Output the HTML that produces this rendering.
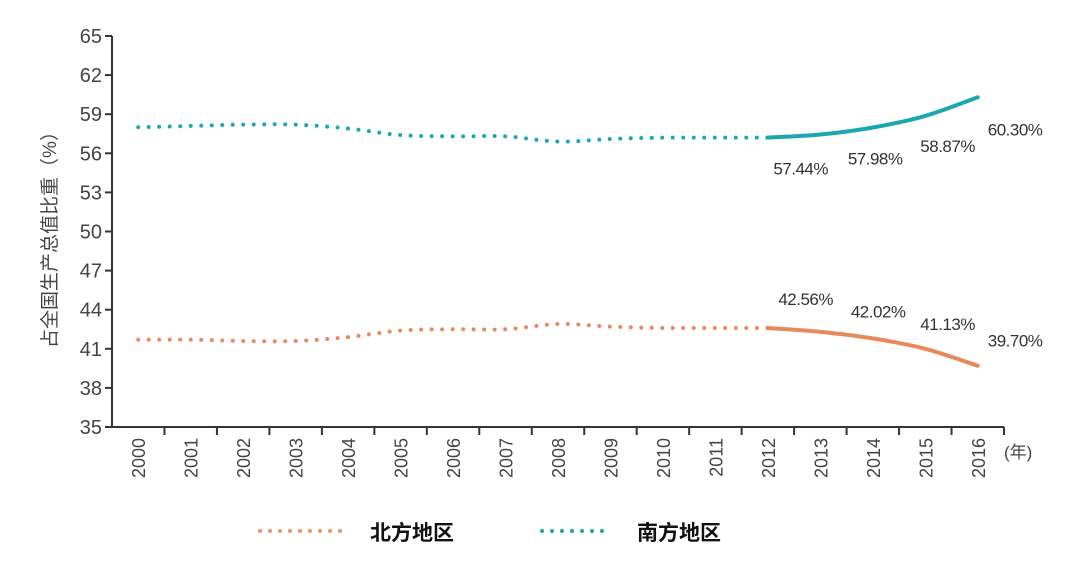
<!DOCTYPE html>
<html><head><meta charset="utf-8"><style>
body{margin:0;background:#fff;width:1080px;height:562px;overflow:hidden}
svg text{font-family:"Liberation Sans","Noto Sans CJK SC",sans-serif}
</style></head><body>
<svg id="chart" width="1080" height="562" viewBox="0 0 1080 562" xmlns="http://www.w3.org/2000/svg">
<g id="axes"></g><g id="series"></g><g id="labels"></g>
<text transform="translate(56,235) rotate(-90)" text-anchor="middle" font-size="19" fill="#444">占全国生产总值比重（%）</text>
<text x="1004" y="458" font-size="17" fill="#444">(年)</text>
<g>
<line x1="260" y1="531" x2="345" y2="531" stroke="#e8956a" stroke-width="4" stroke-linecap="round" stroke-dasharray="0 10"/>
<text x="370" y="540" font-size="21" font-weight="bold" fill="#111">北方地区</text>
<line x1="542" y1="531" x2="610" y2="531" stroke="#1aa8a8" stroke-width="4" stroke-linecap="round" stroke-dasharray="0 10"/>
<text x="637" y="540" font-size="21" font-weight="bold" fill="#111">南方地区</text>
</g>
</svg>
<script>
const years=["2000","2001","2002","2003","2004","2005","2006","2007","2008","2009","2010","2011","2012","2013","2014","2015","2016"];
const south=[58.0,58.1,58.2,58.2,57.9,57.4,57.3,57.3,56.9,57.1,57.2,57.2,57.2,57.44,57.98,58.87,60.30];
const north=[41.7,41.7,41.6,41.6,41.9,42.4,42.5,42.5,42.9,42.7,42.6,42.6,42.6,42.3,41.8,41.0,39.70];
const southLabels=["57.44%","57.98%","58.87%","60.30%"];
const northLabels=["42.56%","42.02%","41.13%","39.70%"];
const yTicks=[35,38,41,44,47,50,53,56,59,62,65];
const solidStart=12;
const NS="http://www.w3.org/2000/svg";
const X0=112,X1=1004,Y0=427,Y1=36,YMIN=35,YMAX=65;
const bw=(X1-X0)/years.length;
const xs=i=>X0+bw*(i+0.5);
const ys=v=>Y0-(v-YMIN)/(YMAX-YMIN)*(Y0-Y1);
function mk(tag,attrs,parent){const e=document.createElementNS(NS,tag);for(const k in attrs)e.setAttribute(k,attrs[k]);parent.appendChild(e);return e;}
const axes=document.getElementById('axes'),ser=document.getElementById('series'),lab=document.getElementById('labels');
let e=mk('line',{x1:X0,y1:Y1,x2:X0,y2:Y0,stroke:'#333','stroke-width':2},axes);


e=mk('line',{x1:X0,y1:Y0,x2:X1,y2:Y0,stroke:'#333','stroke-width':2},axes);


yTicks.forEach(t=>{
 const y=ys(t);
 const l=mk('line',{x1:X0-7,y1:y,x2:X0,y2:y,stroke:'#333','stroke-width':2},axes);
 
 
 const tx=mk('text',{x:X0-10,y:y+7,'text-anchor':'end','font-size':20,fill:'#444'},axes);
 tx.textContent=t;
 
 
});
years.forEach((yr,i)=>{
 const bx=X0+bw*(i+1);
 const l=mk('line',{x1:bx,y1:Y0,x2:bx,y2:Y0+8,stroke:'#333','stroke-width':2},axes);
 
 
 const tx=mk('text',{transform:`translate(${xs(i)+7},438) rotate(-90)`,'text-anchor':'end','font-size':18,fill:'#444'},axes);
 tx.textContent=yr;
 
 
});
function smooth(pts){let d=`M${pts[0][0]},${pts[0][1]}`;for(let i=0;i<pts.length-1;i++){const p0=pts[i-1]||pts[i],p1=pts[i],p2=pts[i+1],p3=pts[i+2]||p2;d+=` C${p1[0]+(p2[0]-p0[0])/6},${p1[1]+(p2[1]-p0[1])/6} ${p2[0]-(p3[0]-p1[0])/6},${p2[1]-(p3[1]-p1[1])/6} ${p2[0]},${p2[1]}`;}return d;}
function draw(vals,color,name){
 const pts=vals.map((v,i)=>[xs(i),ys(v)]);
 const a=mk('path',{d:smooth(pts.slice(0,solidStart+1)),fill:'none',stroke:color,'stroke-width':4,'stroke-linecap':'round','stroke-dasharray':'0 10.5'},ser);
 
 
 const b=mk('path',{d:smooth(pts.slice(solidStart)),fill:'none',stroke:color,'stroke-width':4,'stroke-linecap':'round'},ser);
 
 
}
draw(south,'#1aa8b0','south');
draw(north,'#e8895a','north');
const sdx=[-47,-25,-5,10],sdy=[40,37,36,38];
southLabels.forEach((s,k)=>{
 const i=solidStart+1+k;
 const t=mk('text',{x:xs(i)+sdx[k],y:ys(south[i])+sdy[k],'font-size':17,fill:'#333','letter-spacing':'-0.5'},lab);
 t.textContent=s;
 
 
});
const ndx=[-42,-22,-5,10],ndy=[-27,-21,-19,-19];
northLabels.forEach((s,k)=>{
 const i=solidStart+1+k;
 const t=mk('text',{x:xs(i)+ndx[k],y:ys(north[i])+ndy[k],'font-size':17,fill:'#333','letter-spacing':'-0.5'},lab);
 t.textContent=s;
 
 
});
</script>
</body></html>
